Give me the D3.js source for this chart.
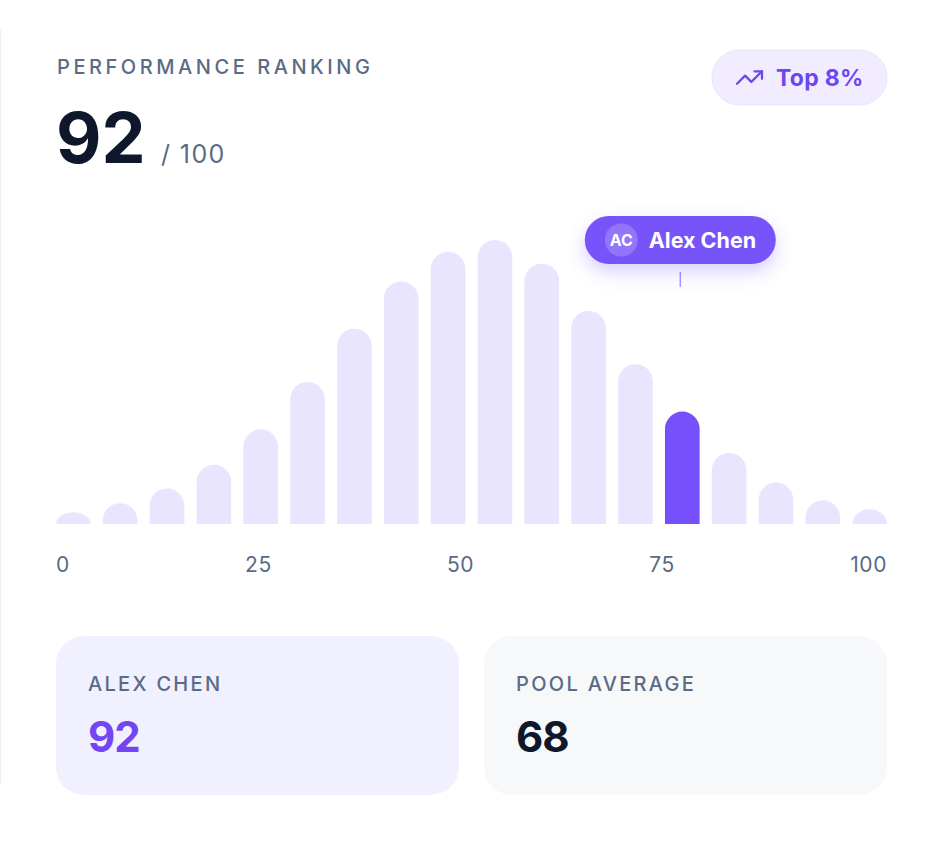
<!DOCTYPE html>
<html><head><meta charset="utf-8">
<script src="https://cdn.jsdelivr.net/npm/d3@7"></script>
<style>
html,body{margin:0;padding:0;background:#fff;}
svg{display:block;font-family:Inter,"Noto Sans",sans-serif;}
</style></head>
<body>
<svg id="chart" width="942" height="842"></svg>
<script>
// ---- data ----
const categories = ["1","2","3","4","5","6","7","8","9","10","11","12","13","14","15","16","17","18"];
const values = [4,7,12,20,32,48,66,82,92,96,88,72,54,38,24,14,8,5];
const highlightCategory = "14";
const tickLabels = ["0","25","50","75","100"];
const title = "PERFORMANCE RANKING";
const score = "92";
const scoreMax = "/ 100";
const badgeText = "Top 8%";
const personName = "Alex Chen";
const personInitials = "AC";
const cardLabels = ["ALEX CHEN","POOL AVERAGE"];
const cardValues = ["92","68"];

const svg = d3.select("#chart");
const defs = svg.append("defs");
const f = defs.append("filter").attr("id","glow").attr("x","-30%").attr("y","-50%").attr("width","160%").attr("height","220%");
f.append("feDropShadow").attr("dx",0).attr("dy",8).attr("stdDeviation",9).attr("flood-color","#7c55f9").attr("flood-opacity",0.28);

// faint container edge
svg.append("line").attr("x1",0.5).attr("x2",0.5).attr("y1",30).attr("y2",785).attr("stroke","#eef1f6").attr("stroke-width",1.5);

// header
svg.append("text").attr("x",57).attr("y",74).text(title)
  .attr("font-size",20).attr("font-weight",500).attr("letter-spacing",3.55).attr("fill","#5a6b86");
svg.append("text").attr("x",56).attr("y",163).text(score)
  .attr("font-size",70).attr("font-weight",700).attr("fill","#0f172a").attr("letter-spacing",0);
svg.append("text").attr("x",161).attr("y",163).text(scoreMax)
  .attr("font-size",25).attr("font-weight",400).attr("letter-spacing",1.4).attr("fill","#5a6b86");

// badge
svg.append("rect").attr("x",712).attr("y",50).attr("width",175).attr("height",55).attr("rx",27.5)
  .attr("fill","#f1ecff").attr("stroke","#ebe5ff");
const ic = svg.append("g").attr("transform","translate(734.5,62.5) scale(1.25)")
  .attr("fill","none").attr("stroke","#6c47f0").attr("stroke-width",1.8).attr("stroke-linecap","round").attr("stroke-linejoin","round");
ic.append("polyline").attr("points","22 7 13.5 15.5 8.5 10.5 2 17");
ic.append("polyline").attr("points","16 7 22 7 22 13");
svg.append("text").attr("x",776).attr("y",86).text(badgeText)
  .attr("font-size",23).attr("font-weight",700).attr("letter-spacing",0.3).attr("fill","#6c47f0");

// scales
const x = d3.scaleBand().domain(categories).range([56,887]).paddingInner(0.26).paddingOuter(0);
const y = d3.scaleLinear().domain([0,96]).range([524,240]);
const bw = x.bandwidth();

function barPath(d,i){
  const x0 = x(categories[i]), y0 = y(0), y1 = y(d);
  const h = y0 - y1;
  const r = Math.min(bw/2, h);
  return `M${x0},${y0} L${x0},${y1+r} A${bw/2},${r} 0 0 1 ${x0+bw/2},${y1} A${bw/2},${r} 0 0 1 ${x0+bw},${y1+r} L${x0+bw},${y0} Z`;
}
svg.append("g").selectAll("path").data(values).join("path")
  .attr("d",barPath)
  .attr("fill",(d,i)=>categories[i]===highlightCategory?"#7650fb":"#e9e5ff");

// axis labels (space-between layout)
const axisG = svg.append("g");
const tl = axisG.selectAll("text").data(tickLabels).join("text")
  .attr("y",572).attr("font-size",21).attr("letter-spacing",0.6).attr("fill","#5a6b86").text(d=>d);
const widths = tl.nodes().map(n=>n.getComputedTextLength());
const totalW = d3.sum(widths);
const gap = (887-56-totalW)/(tickLabels.length-1);
let cx = 56;
tl.attr("x",(d,i)=>{const v=cx; cx += widths[i]+gap; return v;});

// tooltip
const hx = x(highlightCategory)+bw/2 - 2;
svg.append("line").attr("x1",hx).attr("x2",hx).attr("y1",272).attr("y2",287)
  .attr("stroke","#a996fb").attr("stroke-width",1.5);
const tipW = 191, tipH = 48, tipX = hx - tipW/2, tipY = 216;
svg.append("rect").attr("x",tipX).attr("y",tipY).attr("width",tipW).attr("height",tipH).attr("rx",24)
  .attr("fill","#7752fa").attr("filter","url(#glow)");
svg.append("circle").attr("cx",tipX+36.5).attr("cy",tipY+24).attr("r",16.5).attr("fill","rgba(255,255,255,0.2)");
svg.append("text").attr("x",tipX+36.5).attr("y",tipY+30).attr("text-anchor","middle").text(personInitials)
  .attr("font-size",16).attr("font-weight",700).attr("fill","#fff");
svg.append("text").attr("x",tipX+64).attr("y",tipY+32).text(personName)
  .attr("font-size",21.5).attr("font-weight",700).attr("fill","#fff");

// cards
const cardX = [56,484], cardFill = ["#f1f0fe","#f7f8fa"], valFill = ["#7346f5","#0f172a"];
cardLabels.forEach((lab,i)=>{
  svg.append("rect").attr("x",cardX[i]).attr("y",636).attr("width",403).attr("height",159).attr("rx",28).attr("fill",cardFill[i]);
  svg.append("text").attr("x",cardX[i]+32).attr("y",691).text(lab)
    .attr("font-size",20).attr("font-weight",500).attr("letter-spacing",2.3).attr("fill","#5a6b86");
  svg.append("text").attr("x",cardX[i]+32).attr("y",752).text(cardValues[i])
    .attr("font-size",42).attr("font-weight",700).attr("letter-spacing",-1).attr("fill",valFill[i]);
});
</script>
</body></html>
